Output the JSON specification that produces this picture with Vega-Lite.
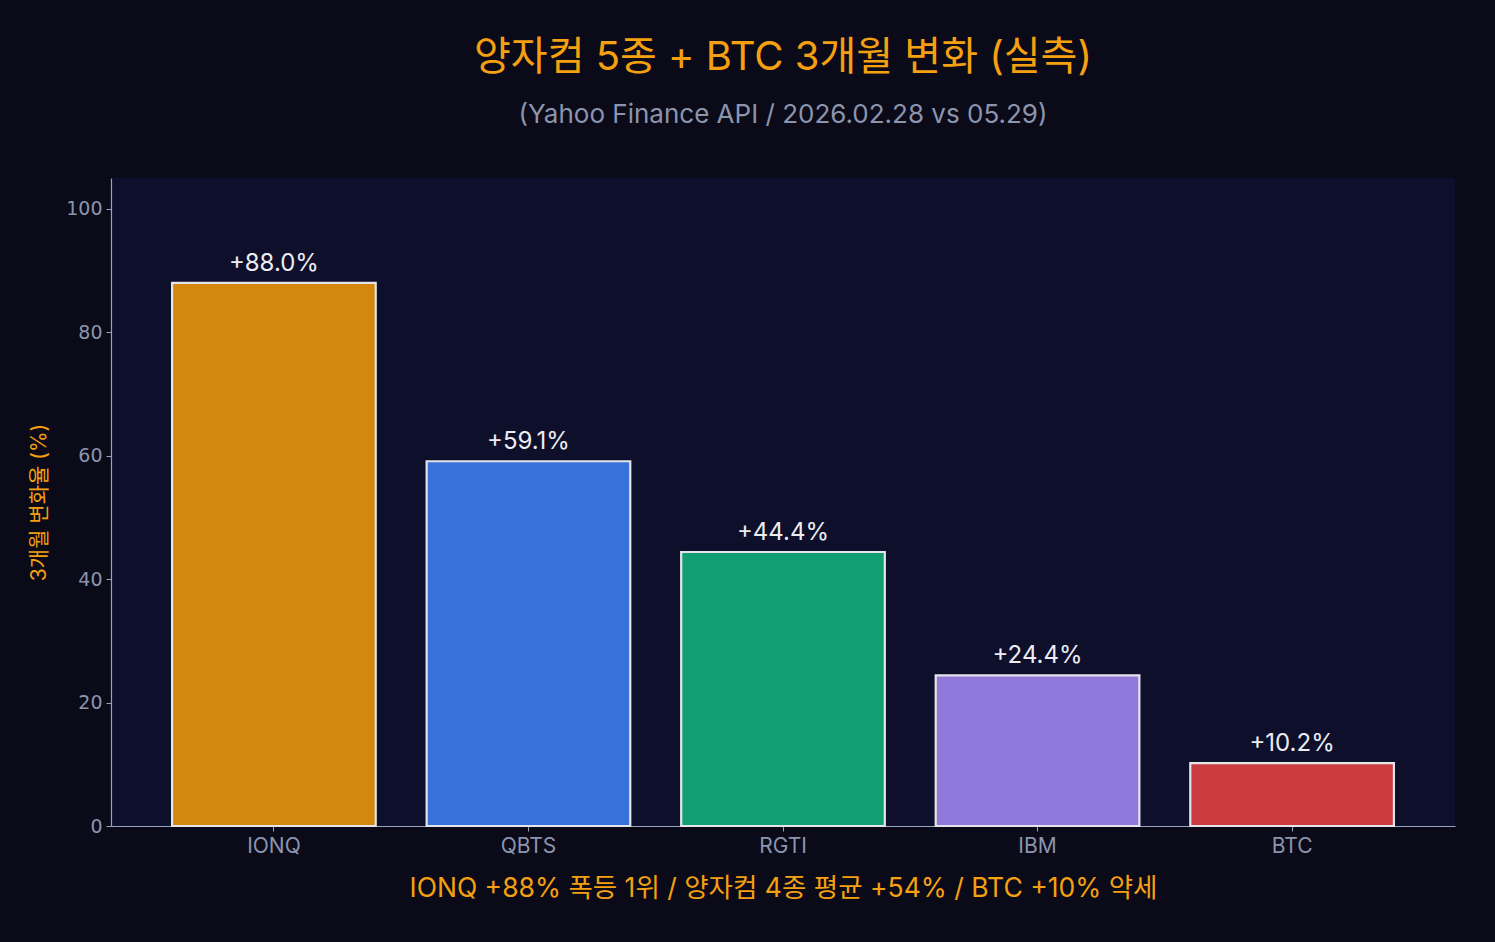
{
  "$schema": "https://vega.github.io/schema/vega-lite/v6.json",
  "autosize": "none",
  "width": 1344,
  "height": 648,
  "padding": {"left": 111, "top": 178, "right": 40, "bottom": 116},
  "background": "#0a0a19",
  "config": {
    "view": {"fill": "#0e0f2b", "stroke": null},
    "font": "Inter, Noto Sans CJK KR"
  },
  "title": {
    "text": "양자컴 5종 + BTC 3개월 변화 (실측)",
    "subtitle": "(Yahoo Finance API /  2026.02.28 vs 05.29)",
    "anchor": "middle",
    "frame": "group",
    "font": "Inter, Noto Sans CJK KR",
    "fontSize": 40,
    "fontWeight": "normal",
    "color": "#f5a011",
    "subtitleFont": "Inter, Noto Sans CJK KR",
    "subtitleFontSize": 26,
    "subtitleColor": "#8c95ad",
    "subtitlePadding": 24,
    "offset": 50
  },
  "data": {
    "values": [
      {"ticker": "IONQ", "change": 88.0, "label": "+88.0%"},
      {"ticker": "QBTS", "change": 59.1, "label": "+59.1%"},
      {"ticker": "RGTI", "change": 44.4, "label": "+44.4%"},
      {"ticker": "IBM", "change": 24.4, "label": "+24.4%"},
      {"ticker": "BTC", "change": 10.2, "label": "+10.2%"}
    ]
  },
  "encoding": {
    "x": {
      "field": "ticker",
      "type": "nominal",
      "sort": null,
      "scale": {"paddingInner": 0.2, "paddingOuter": 0.24},
      "axis": {
        "title": "IONQ +88% 폭등 1위 / 양자컴 4종 평균 +54% / BTC +10% 약세",
        "titleFont": "Inter, Noto Sans CJK KR",
        "titleFontSize": 26.5,
        "titleFontWeight": "normal",
        "titleColor": "#f5a011",
        "titlePadding": 19,
        "labelFont": "Inter, Noto Sans CJK KR",
        "labelFontSize": 21,
        "labelColor": "#8c95ad",
        "labelAngle": 0,
        "labelPadding": 4,
        "domainColor": "#9aa3bb",
        "domainWidth": 1.2,
        "tickColor": "#9aa3bb",
        "tickSize": 5,
        "grid": false
      }
    },
    "y": {
      "field": "change",
      "type": "quantitative",
      "scale": {"domain": [0, 105], "nice": false},
      "axis": {
        "values": [0, 20, 40, 60, 80, 100],
        "title": "3개월 변화율 (%)",
        "titleFont": "Inter, Noto Sans CJK KR",
        "titleFontSize": 21,
        "titleFontWeight": "normal",
        "titleColor": "#f5a011",
        "titlePadding": 16,
        "labelFont": "DejaVu Sans",
        "labelFontSize": 19,
        "labelColor": "#8c95ad",
        "labelPadding": 4,
        "domainColor": "#9aa3bb",
        "domainWidth": 1.2,
        "tickColor": "#9aa3bb",
        "tickSize": 5,
        "grid": false
      }
    }
  },
  "layer": [
    {
      "mark": {"type": "bar", "stroke": "#e4e4ea", "strokeWidth": 2.2},
      "encoding": {
        "color": {
          "field": "ticker",
          "type": "nominal",
          "scale": {
            "domain": ["IONQ", "QBTS", "RGTI", "IBM", "BTC"],
            "range": ["#d2880f", "#3672d8", "#119e70", "#9079db", "#cc3b40"]
          },
          "legend": null
        }
      }
    },
    {
      "mark": {"type": "text", "baseline": "alphabetic", "dy": -12, "fontSize": 24, "color": "#ececf2", "font": "Inter, Noto Sans CJK KR"},
      "encoding": {
        "text": {"field": "label"}
      }
    }
  ]
}
